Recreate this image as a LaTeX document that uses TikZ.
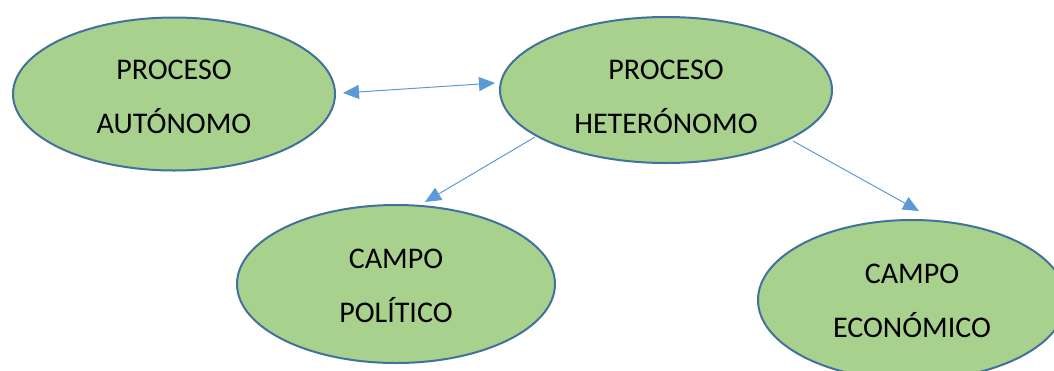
\documentclass[tikz,border=0pt]{standalone}
\usepackage{fontspec}
\setmainfont{Carlito}
\usetikzlibrary{shapes.geometric,arrows.meta,calc}
\definecolor{fillgreen}{HTML}{A9D18E}
\definecolor{edgeblue}{HTML}{41719C}
\definecolor{arrowblue}{HTML}{5B9BD5}
\begin{document}
\begin{tikzpicture}[x=1pt,y=-1pt,
  bubble/.style={ellipse, draw=edgeblue, line width=2pt, fill=fillgreen, inner sep=0pt},
  caption/.style={align=center, inner sep=0pt, font=\fontsize{30}{54}\selectfont},
  link/.style={draw=arrowblue, line width=1pt},
  tip/.style={-{Triangle[length=16pt,width=14pt]}},
  bothtips/.style={{Triangle[length=16pt,width=14pt]}-{Triangle[length=16pt,width=14pt]}},
]
\useasboundingbox (0,0) rectangle (1054,370);
\begin{scope}
  \clip (0,0) rectangle (1054,370);
  % concept bubbles, each with its two-line caption
  \node[bubble, minimum width=322pt, minimum height=153pt,
    label={[caption, yshift=-3pt]center:PROCESO\\AUTÓNOMO}] (auto) at (174,94) {};
  \node[bubble, minimum width=332pt, minimum height=146pt,
    label={[caption, yshift=-7pt]center:PROCESO\\HETERÓNOMO}] (hetero) at (666,90) {};
  \node[bubble, minimum width=318pt, minimum height=158pt,
    label={[caption, yshift=-2pt]center:CAMPO\\POLÍTICO}] (poli) at (396,284) {};
  \node[bubble, minimum width=308pt, minimum height=160pt,
    label={[caption, yshift=-1pt]center:CAMPO\\ECONÓMICO}] (econ) at (912,300) {};
  % connectors
  \draw[link, bothtips] ($(auto.east)+(7,-1)$) -- ($(hetero.west)+(-4,-7)$);
  \draw[link, tip] ($(hetero)+(-131,47)$) -- ($(poli.north)+(29,-2)$);
  \draw[link, tip] ($(hetero)+(127,51)$) -- ($(econ.north)+(7,-8)$);
\end{scope}
\end{tikzpicture}
\end{document}
